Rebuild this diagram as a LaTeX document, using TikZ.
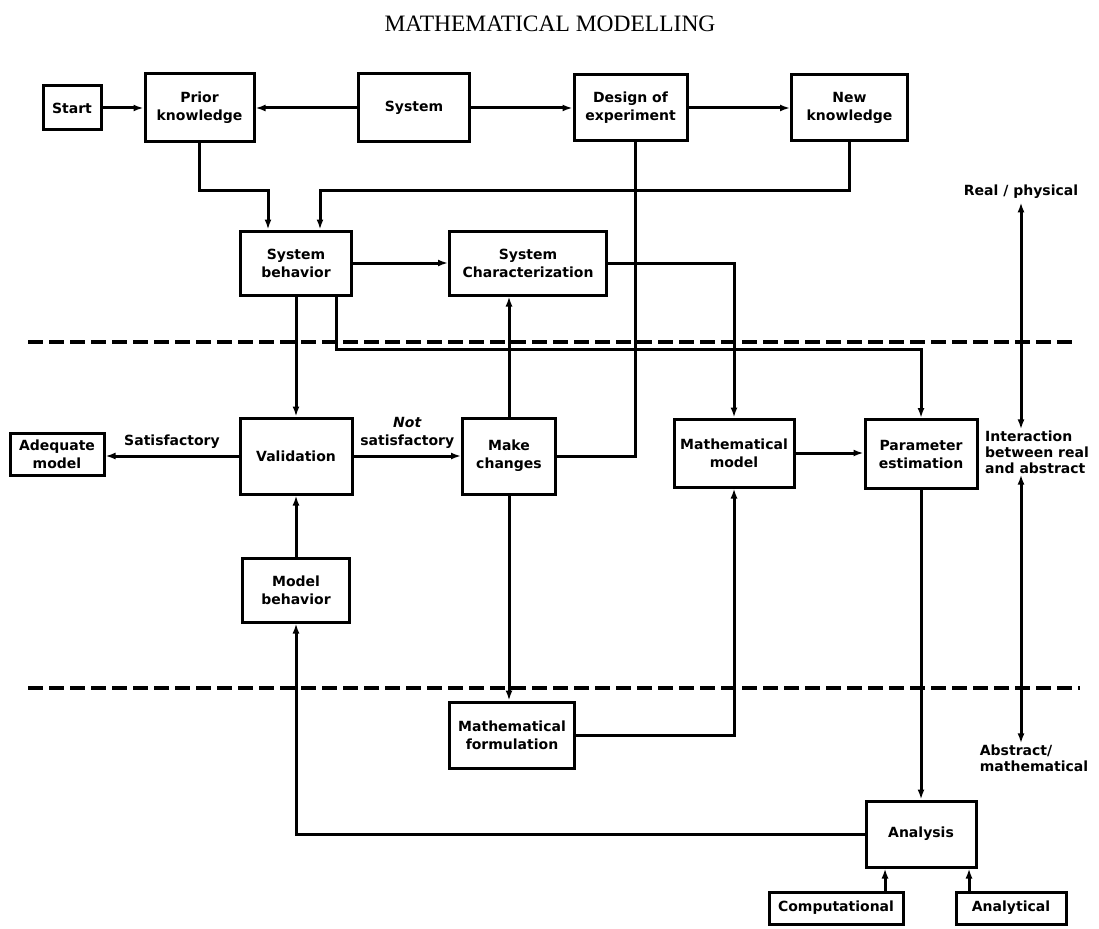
\documentclass[tikz,border=0pt]{standalone}
\usepackage{fontspec}
\setmainfont{Liberation Serif}
\setsansfont{DejaVu Sans}
\usetikzlibrary{arrows.meta, positioning}

\begin{document}
\begin{tikzpicture}[
        x=1pt, y=-1pt,
        box/.style={rectangle, draw, line width=3pt, align=center, inner sep=2pt, font=\sffamily\bfseries\fontsize{14}{18}\selectfont},
        dims/.style 2 args={minimum width=#1, minimum height=#2},
        lbl/.style={align=center, font=\sffamily\bfseries\fontsize{14}{18}\selectfont},
        side/.style={align=left, inner sep=1pt, font=\sffamily\bfseries\fontsize{14}{16}\selectfont},
        arrow/.style={-{Latex[length=10pt, width=7pt]}, line width=3pt},
        plain/.style={line width=3pt},
        both/.style={{Latex[length=10pt, width=7pt]}-{Latex[length=10pt, width=7pt]}, line width=3pt},
        divider/.style={line width=4.5pt, dash pattern=on 15pt off 6pt},
        node distance=101.5pt,
        ]
    \useasboundingbox (0,0) rectangle (1099,928);

    % Title
    \node[font=\fontsize{23.5}{28}\selectfont] (title) at (550,24) {MATHEMATICAL MODELLING};

    % Nodes
    \node[box, dims={58pt}{44pt}] (start) at (72,108) {Start};
    \node[box, dims={109pt}{68pt}, right=41pt of start] (prior) {Prior\\knowledge};
    \node[box, dims={111pt}{68pt}, right=of prior] (system) {System};
    \node[box, dims={113pt}{66pt}, right=of system] (design) {Design of\\experiment};
    \node[box, dims={116pt}{66pt}, right=of design] (newk) {New\\knowledge};

    \node[box, dims={111pt}{64pt}] (sysbeh) at (296,263) {System\\behavior};
    \node[box, dims={157pt}{64pt}] (syschar) at (528,263) {System\\Characterization};

    \node[box, dims={94pt}{42pt}] (adequate) at (57,454) {Adequate\\model};
    \node[box, dims={112pt}{76pt}] (validation) at (296,456) {Validation};
    \node[box, dims={93pt}{76pt}] (makech) at (509,456) {Make\\changes};
    \node[box, dims={120pt}{68pt}] (mathmod) at (734,453) {Mathematical\\model};
    \node[box, dims={112pt}{69pt}] (parest) at (921,454) {Parameter\\estimation};

    \node[box, dims={107pt}{64pt}] (modbeh) at (296,590) {Model\\behavior};
    \node[box, dims={125pt}{66pt}] (mathform) at (512,735) {Mathematical\\formulation};

    \node[box, dims={110pt}{66pt}] (analysis) at (921,834) {Analysis};
    \node[box, dims={134pt}{32pt}] (comp) at (836,908) {Computational};
    \node[box, dims={110pt}{32pt}] (analytic) at (1011,908) {Analytical};

    % Side texts
    \node[lbl] (realphys) at (1021,192) {Real / physical};
    \node[side] (interact) at (1037,452) {Interaction\\between real\\and abstract};
    \node[side] (abstract) at (1034,758) {Abstract/\\mathematical};

    \coordinate (busA) at (0,190);
    \coordinate (busB) at (0,349);
    \coordinate (axis) at (1021,0);

    % Dividers
    \draw[divider] (28,342) -- (1075,342);
    \draw[divider] (28,688) -- (1080,688);

    % Arrows
    \draw[arrow] (start) -- (prior);
    \draw[arrow] (system) -- (prior);
    \draw[arrow] (system) -- (design);
    \draw[arrow] (design) -- (newk);

    \draw[arrow] (prior.south) -- (prior.south |- busA) -| ([xshift=-28pt]sysbeh.north);
    \draw[arrow] (newk.south) -- (newk.south |- busA) -| ([xshift=24pt]sysbeh.north);
    \draw[plain] (makech.east) -| ([xshift=4.5pt]design.south);

    \draw[arrow] (sysbeh) -- (syschar);
    \draw[arrow] (syschar.east) -| (mathmod.north);
    \draw[arrow] (makech.north) -- (makech.north |- syschar.south);
    \draw[arrow] (sysbeh.south) -- (validation.north);
    \draw[arrow] ([xshift=40pt]sysbeh.south) -- ([xshift=40pt]sysbeh.south |- busB) -| (parest.north);

    \draw[arrow] (validation.west) -- node[lbl, above=3pt] {Satisfactory} (validation.west -| adequate.east);
    \draw[arrow] (validation.east) -- node[lbl, above=3pt] {{\itshape Not}\\satisfactory} (validation.east -| makech.west);
    \draw[arrow] (mathmod.east) -- (mathmod.east -| parest.west);

    \draw[arrow] (modbeh.north) -- (validation.south);
    \draw[arrow] (analysis.west) -| (modbeh.south);
    \draw[arrow] (makech.south) -- (makech.south |- mathform.north);
    \draw[arrow] (mathform.east) -| (mathmod.south);
    \draw[arrow] (parest.south) -- (analysis.north);
    \draw[arrow] ([xshift=49pt]comp.north) -- ([xshift=49pt]comp.north |- analysis.south);
    \draw[arrow] ([xshift=-42pt]analytic.north) -- ([xshift=-42pt]analytic.north |- analysis.south);

    \draw[both] (axis |- realphys.south) -- (axis |- interact.north);
    \draw[both] (axis |- interact.south) -- (axis |- abstract.north);

\end{tikzpicture}
\end{document}
